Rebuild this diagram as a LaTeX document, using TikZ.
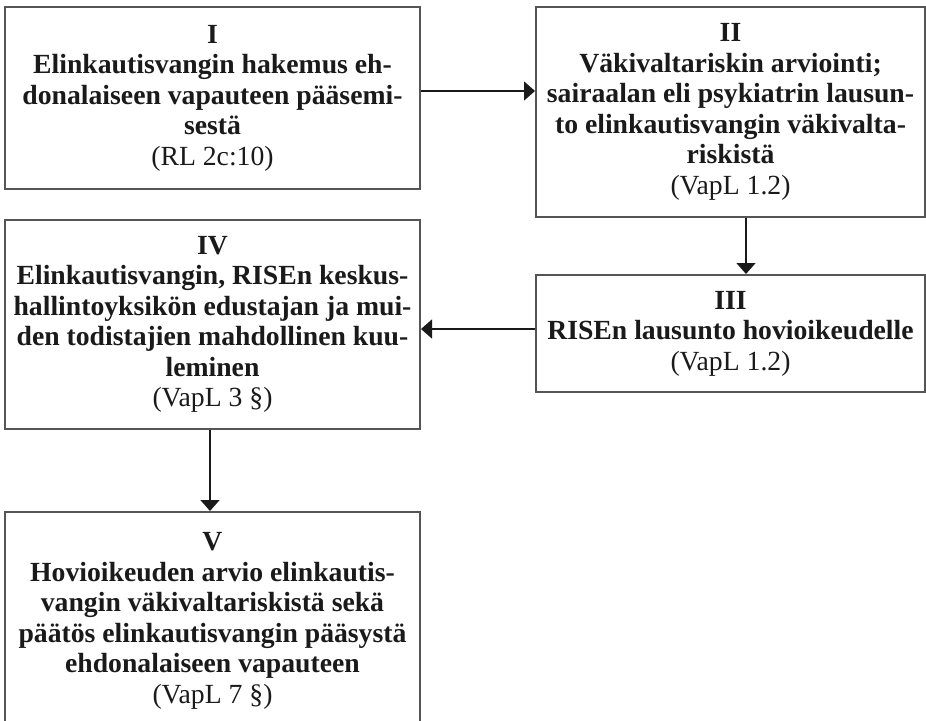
\documentclass[tikz,border=0pt]{standalone}
\usepackage{fontspec}
\setmainfont{Liberation Serif}
\usetikzlibrary{arrows.meta}
\definecolor{boxline}{HTML}{555555}
\definecolor{txt}{HTML}{1A1A1A}
\begin{document}
\begin{tikzpicture}[x=1pt,y=-1pt,
  stage/.style={draw=boxline, line width=2pt, rectangle, inner sep=0pt,
    align=center, text=txt, font=\fontsize{27.7}{30.5}\selectfont},
  arr/.style={draw=txt, line width=1.6pt, -{Triangle[length=11pt,width=19pt]}}]
\useasboundingbox (0,0) rectangle (926,720);
\node[stage, minimum width=415, minimum height=182] (I) at (212.5,98)
  {\textbf{I}\\ \textbf{Elinkautisvangin hakemus eh-}\\ \textbf{donalaiseen vapauteen pääsemi-}\\ \textbf{sestä}\\ (RL 2c:10)};
\node[stage, minimum width=389, minimum height=210] (II) at (730.5,112)
  {\textbf{II}\\ \textbf{Väkivaltariskin arviointi;}\\ \textbf{sairaalan eli psykiatrin lausun-}\\ \textbf{to elinkautisvangin väkivalta-}\\ \textbf{riskistä}\\ (VapL 1.2)};
\node[stage, minimum width=389, minimum height=117] (III) at (730.5,333.5)
  {\textbf{III}\\ \textbf{RISEn lausunto hovioikeudelle}\\ (VapL 1.2)};
\node[stage, minimum width=415, minimum height=209] (IV) at (212.5,324.5)
  {\textbf{IV}\\ \textbf{Elinkautisvangin, RISEn keskus-}\\ \textbf{hallintoyksikön edustajan ja mui-}\\ \textbf{den todistajien mahdollinen kuu-}\\ \textbf{leminen}\\ (VapL 3 §)};
\node[stage, minimum width=415, minimum height=218] (V) at (212.5,621)
  {\textbf{V}\\ \textbf{Hovioikeuden arvio elinkautis-}\\ \textbf{vangin väkivaltariskistä sekä}\\ \textbf{päätös elinkautisvangin pääsystä}\\ \textbf{ehdonalaiseen vapauteen}\\ (VapL 7 §)};
\draw[arr] ([yshift=7pt]I.east) -- ([yshift=7pt]I.east -| II.west);
\draw[arr] ([xshift=15.5pt]II.south) -- ([xshift=15.5pt]II.south |- III.north);
\draw[arr] ([yshift=4.5pt]III.west) -- ([yshift=4.5pt]III.west -| IV.east);
\draw[arr] ([xshift=-2.5pt]IV.south) -- ([xshift=-2.5pt]IV.south |- V.north);
\end{tikzpicture}
\end{document}
